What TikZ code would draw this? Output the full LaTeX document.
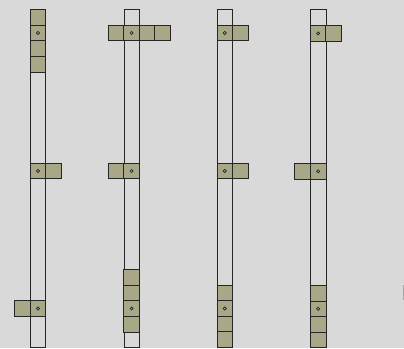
\documentclass[tikz,border=0pt]{standalone}
\usepackage{tikz}
\usetikzlibrary{positioning}
\definecolor{bgray}{HTML}{D9D9D9}
\definecolor{cellfill}{HTML}{A8A889}
\definecolor{edgegray}{HTML}{A6A6A6}

\begin{document}
\begin{tikzpicture}[x=1pt,y=-1pt,
  tube/.style={draw=black!85,line width=0.7pt,minimum width=15.4pt,minimum height=338pt,inner sep=0pt,anchor=north},
  cell/.style={draw=black!85,fill=cellfill,line width=0.8pt,minimum size=15.7pt,inner sep=0pt,outer sep=0pt},
  pivot/.style={circle,draw=black!85,fill=black!35,line width=0.7pt,minimum size=3.2pt,inner sep=0pt}]
  % canvas
  \fill[bgray] (0,0) rectangle (404,348);
  \useasboundingbox (0,0) rectangle (404,348);

  % tubes
  \node[tube] (t1) at (38,9) {};
  \node[tube] (t2) at (131.6,9) {};
  \node[tube] (t3) at (224.8,9) {};
  \node[tube] (t4) at (318.2,9) {};

  % top row
  \foreach \dy [count=\i] in {-1,0,1,2}
    \node[cell] (a1\i) at (38,33+15.6*\dy) {};
  \node[pivot] (pa1) at (a12) {};
  \foreach \dx [count=\i] in {-1,0,1,2}
    \node[cell] (a2\i) at (131.6+15.5*\dx,33) {};
  \node[pivot] (pa2) at (a22) {};
  \foreach \dx [count=\i] in {0,1}
    \node[cell] (a3\i) at (224.8+15.5*\dx,33) {};
  \node[pivot] (pa3) at (a31) {};
  \foreach \dx [count=\i] in {0,1}
    \node[cell] (a4\i) at (318.2+15.5*\dx,33.4) {};
  \node[pivot] (pa4) at (a41) {};

  % middle row
  \foreach \dx [count=\i] in {0,1}
    \node[cell] (b1\i) at (38+15.5*\dx,171) {};
  \node[pivot] (pb1) at (b11) {};
  \foreach \dx [count=\i] in {-1,0}
    \node[cell] (b2\i) at (131.6+15.5*\dx,171) {};
  \node[pivot] (pb2) at (b22) {};
  \foreach \dx [count=\i] in {0,1}
    \node[cell] (b3\i) at (224.8+15.5*\dx,171) {};
  \node[pivot] (pb3) at (b31) {};
  \foreach \dx [count=\i] in {-1,0}
    \node[cell] (b4\i) at (318.2+15.5*\dx,171.3) {};
  \node[pivot] (pb4) at (b42) {};

  % bottom row
  \foreach \dx [count=\i] in {-1,0}
    \node[cell] (c1\i) at (38+15.5*\dx,308.5) {};
  \node[pivot] (pc1) at (c12) {};
  \foreach \dy [count=\i] in {-2,-1,0,1}
    \node[cell] (c2\i) at (131.6,308.5+15.6*\dy) {};
  \node[pivot] (pc2) at (c23) {};
  \foreach \dy [count=\i] in {-1,0,1,2}
    \node[cell] (c3\i) at (224.8,308.5+15.6*\dy) {};
  \node[pivot] (pc3) at (c32) {};
  \foreach \dy [count=\i] in {-1,0,1,2}
    \node[cell] (c4\i) at (318.2,308.8+15.6*\dy) {};
  \node[pivot] (pc4) at (c42) {};

  % edge mark at the right border
  \coordinate (m1) at (403.4,285);
  \coordinate (m2) at (403.4,300);
  \draw[edgegray,line width=1pt] (m1) -- (m2);
\end{tikzpicture}
\end{document}
